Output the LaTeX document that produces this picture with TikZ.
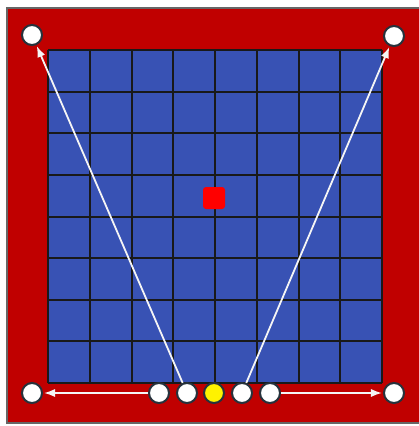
\documentclass[tikz,border=0pt]{standalone}
\usepackage{tikz}
\usetikzlibrary{arrows.meta}
\definecolor{framered}{HTML}{C00000}
\definecolor{cellblue}{HTML}{3852B4}
\definecolor{rimgray}{HTML}{26323C}
\begin{document}
\begin{tikzpicture}[x=1pt,y=-1pt, >=Latex,
  pin/.style={draw=rimgray,line width=2pt,circle,fill=white,minimum size=20pt,inner sep=0pt},
  ray/.style={->,draw=white!92!gray,line width=1.8pt,shorten >=1pt},
  cell/.style={draw=black!90,line width=2pt}]
\useasboundingbox (0,0) rectangle (419,426);
\fill[framered] (7,8) rectangle (425,423);
\draw[gray!80!black,line width=1.5pt] (425,423) -- (7,423) -- (7,8) -- (425,8);
\fill[cellblue] (48,50) rectangle (382,383);
\foreach \i in {0,...,8} {
  \draw[cell] ({48+\i*334/8},50) -- ({48+\i*334/8},383);
  \draw[cell] (48,{50+\i*333/8}) -- (382,{50+\i*333/8});
}
\node[fill=red,rounded corners=3pt,minimum size=22pt,inner sep=0pt] (target) at (214,198) {};
\node[pin] (tl) at (32,35) {};
\node[pin] (tr) at (394,36) {};
\node[pin] (bl) at (32,393) {};
\node[pin] (br) at (394,393) {};
\node[pin] (lo) at (159,393) {};
\node[pin] (li) at (187,393) {};
\node[pin,fill=yellow] (mid) at (214,393) {};
\node[pin] (ri) at (242,393) {};
\node[pin] (ro) at (270,393) {};
\draw[ray] (li) -- (tl);
\draw[ray] (ri) -- (tr);
\draw[ray] (lo) -- (bl);
\draw[ray] (ro) -- (br);
\end{tikzpicture}
\end{document}
